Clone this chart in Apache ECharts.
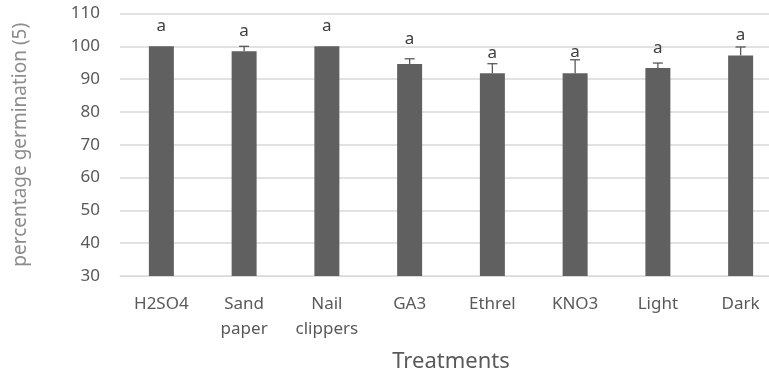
<!DOCTYPE html>
<html>
<head>
<meta charset="utf-8">
<script src="https://cdn.jsdelivr.net/npm/echarts@6/dist/echarts.min.js"></script>
<style>
  html, body { margin: 0; padding: 0; background: #fff; }
  #chart { width: 769px; height: 377px; }
</style>
</head>
<body>
<div id="chart"></div>
<script>
// Germination by seed treatment
const treatments = ['H2SO4', 'Sand\npaper', 'Nail\nclippers', 'GA3', 'Ethrel', 'KNO3', 'Light', 'Dark'];
const germination = [100, 98.5, 100, 94.6, 91.8, 91.8, 93.4, 97.2];
const stdError = [0, 1.5, 0, 1.6, 2.9, 4.1, 1.5, 2.6];
const groupLetters = ['a', 'a', 'a', 'a', 'a', 'a', 'a', 'a'];
const yTicks = [30, 40, 50, 60, 70, 80, 90, 100, 110];

// pixel lift of each significance letter above its error cap
const letterLift = [20, 15, 20, 20, 11, 8, 15, 12];

const chart = echarts.init(document.getElementById('chart'), null, { renderer: 'canvas' });
const FONT = '"Noto Sans", sans-serif';

chart.setOption({
  animation: false,
  backgroundColor: '#ffffff',
  grid: {
    left: 120, top: 13.5, width: 662, bottom: 101,
    containLabel: false,
    outerBoundsMode: 'none'
  },
  xAxis: {
    type: 'category',
    data: treatments,
    name: 'Treatments',
    nameLocation: 'middle',
    nameGap: 75,
    nameTextStyle: { fontFamily: FONT, fontSize: 22, color: '#595959' },
    axisLine: { show: true, lineStyle: { color: '#d9d9d9', width: 1 } },
    axisTick: { show: false },
    axisLabel: { fontFamily: FONT, fontSize: 17, color: '#595959', margin: 16, lineHeight: 25, interval: 0 }
  },
  yAxis: {
    type: 'value',
    min: yTicks[0],
    max: yTicks[yTicks.length - 1],
    interval: 10,
    name: 'percentage germination (5)',
    nameLocation: 'middle',
    nameRotate: 90,
    nameGap: 90,
    nameTextStyle: { fontFamily: FONT, fontSize: 19, color: '#8c8c8c' },
    axisLine: { show: false },
    axisTick: { show: false },
    axisLabel: { fontFamily: FONT, fontSize: 17, color: '#595959', margin: 20 },
    splitLine: { lineStyle: { color: '#d9d9d9', width: 1.5 } }
  },
  series: [
    {
      type: 'bar',
      data: germination,
      barWidth: 25,
      itemStyle: { color: '#606060' },
      z: 2
    },
    {
      type: 'custom',
      data: germination.map((v, i) => [i, v, stdError[i]]),
      z: 3,
      renderItem: function (params, api) {
        const i = api.value(0);
        const mean = api.value(1);
        const err = api.value(2);
        const base = api.coord([i, mean]);
        const top = api.coord([i, mean + err]);
        const children = [];
        if (err > 0) {
          children.push({
            type: 'line',
            shape: { x1: base[0], y1: base[1], x2: top[0], y2: top[1] },
            style: { stroke: '#595959', lineWidth: 1.3 }
          });
          children.push({
            type: 'line',
            shape: { x1: top[0] - 5, y1: top[1], x2: top[0] + 5, y2: top[1] },
            style: { stroke: '#595959', lineWidth: 1.3 }
          });
        }
        children.push({
          type: 'text',
          style: {
            x: top[0],
            y: top[1] - letterLift[params.dataIndex],
            text: groupLetters[params.dataIndex],
            fill: '#404040',
            font: '17px ' + FONT,
            align: 'center',
            verticalAlign: 'middle'
          }
        });
        return { type: 'group', children: children };
      }
    }
  ]
});
</script>
</body>
</html>
